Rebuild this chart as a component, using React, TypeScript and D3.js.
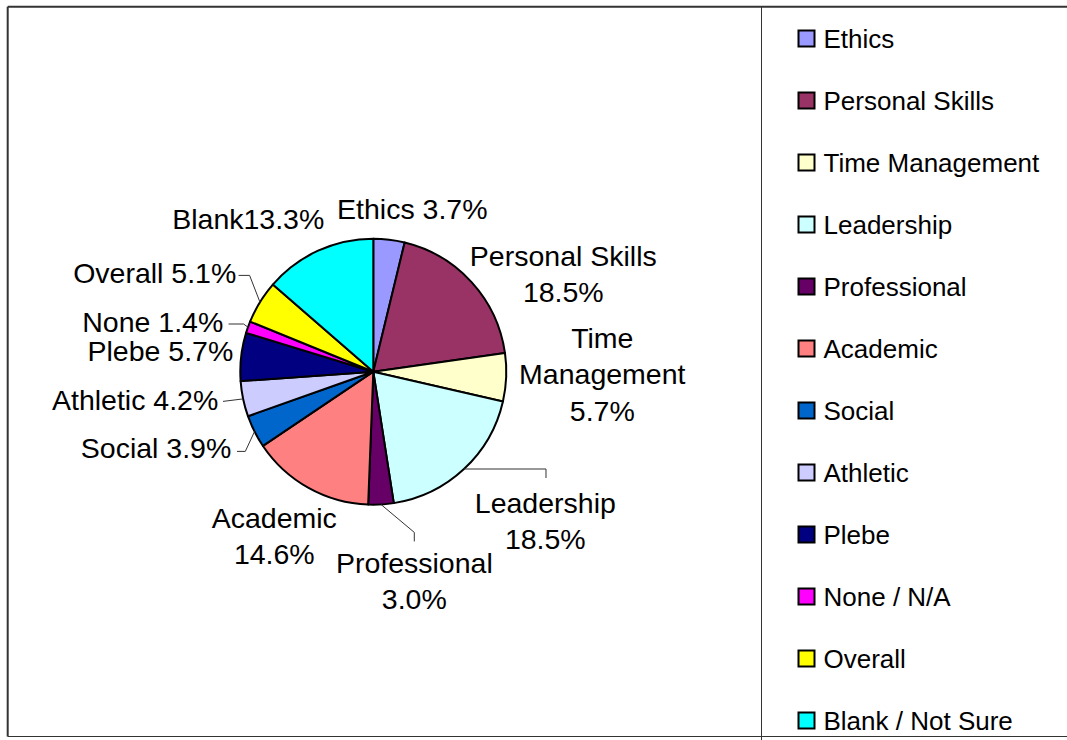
import React, { useEffect, useRef } from "react";
import * as d3 from "d3";

// categories (legend names), label names and percentages
const categories = [
  "Ethics",
  "Personal Skills",
  "Time Management",
  "Leadership",
  "Professional",
  "Academic",
  "Social",
  "Athletic",
  "Plebe",
  "None / N/A",
  "Overall",
  "Blank / Not Sure",
];
const shortNames = [
  "Ethics",
  "Personal Skills",
  "Time Management",
  "Leadership",
  "Professional",
  "Academic",
  "Social",
  "Athletic",
  "Plebe",
  "None",
  "Overall",
  "Blank",
];
const percents = [3.7, 18.5, 5.7, 18.5, 3.0, 14.6, 3.9, 4.2, 5.7, 1.4, 5.1, 13.3];
const colors = [
  "#9999FF",
  "#993366",
  "#FFFFCC",
  "#CCFFFF",
  "#660066",
  "#FF8080",
  "#0066CC",
  "#CCCCFF",
  "#000080",
  "#FF00FF",
  "#FFFF00",
  "#00FFFF",
];

// label placement (relative to pie centre), like hand-dragged Excel labels
type LabelPos = {
  x: number;
  y: number;
  anchor: "start" | "middle" | "end";
  split: "space" | "lines" | "none" | "pct";
  leader?: { tx: number; ty: number; ex?: number; ey?: number };
};
const labelLayout: LabelPos[] = [
  { x: 39, y: -153, anchor: "middle", split: "space" },
  { x: 190, y: -106, anchor: "middle", split: "pct" },
  { x: 229, y: -24, anchor: "middle", split: "lines" },
  { x: 172, y: 141, anchor: "middle", split: "lines", leader: { tx: 172.7, ty: 106.3, ex: 172.7, ey: 97.3 } },
  { x: 41, y: 201, anchor: "middle", split: "lines", leader: { tx: 41, ty: 169.7, ex: 41, ey: 160.7 } },
  { x: -99, y: 156, anchor: "middle", split: "lines" },
  { x: -142, y: 86.3, anchor: "end", split: "space", leader: { tx: -136.3, ty: 79.7, ex: -128, ey: 79.7 } },
  { x: -155, y: 38, anchor: "end", split: "space", leader: { tx: -150.3, ty: 29.7 } },
  { x: -140, y: -10.3, anchor: "end", split: "space" },
  { x: -150, y: -39.5, anchor: "end", split: "space", leader: { tx: -144.7, ty: -47.7, ex: -129.7, ey: -47.7 } },
  { x: -137, y: -88.7, anchor: "end", split: "space", leader: { tx: -134.7, ty: -96.3, ex: -123.7, ey: -96.3 } },
  { x: -49, y: -143, anchor: "end", split: "none" },
];

const W = 1067;
const H = 740;
const cx = 373.3;
const cy = 371.7;
const R = 133;
const FONT = "'Liberation Sans', Arial, Helvetica, sans-serif";

const App = () => {
  const svgRef = useRef<SVGSVGElement | null>(null);

  useEffect(() => {
    const svg = d3.select(svgRef.current);
    svg.selectAll("*").remove();

    // chart frame
    svg.append("rect").attr("width", W).attr("height", H).attr("fill", "#fff");
    svg.append("line").attr("x1", 7.7).attr("x2", W).attr("y1", 6.7).attr("y2", 6.7)
      .attr("stroke", "#333").attr("stroke-width", 2);
    svg.append("line").attr("x1", 7.7).attr("x2", 7.7).attr("y1", 6.7).attr("y2", 736.5)
      .attr("stroke", "#333").attr("stroke-width", 2);
    svg.append("line").attr("x1", 7.7).attr("x2", W).attr("y1", 736.5).attr("y2", 736.5)
      .attr("stroke", "#333").attr("stroke-width", 1);
    svg.append("line").attr("x1", 761.5).attr("x2", 761.5).attr("y1", 6.7).attr("y2", H)
      .attr("stroke", "#333").attr("stroke-width", 1);

    const pie = d3.pie<number>().sort(null).value((d) => d);
    const arcs = pie(percents);
    const arc = d3.arc<d3.PieArcDatum<number>>().innerRadius(0).outerRadius(R);
    const edge = d3.arc<d3.PieArcDatum<number>>().innerRadius(R).outerRadius(R);

    const g = svg.append("g").attr("transform", `translate(${cx},${cy})`);

    g.selectAll("path.slice")
      .data(arcs)
      .enter()
      .append("path")
      .attr("class", "slice")
      .attr("d", arc)
      .attr("fill", (_, i) => colors[i])
      .attr("stroke", "#000")
      .attr("stroke-width", 2)
      .attr("stroke-linejoin", "round");

    // leader lines
    arcs.forEach((a, i) => {
      const lay = labelLayout[i];
      if (!lay.leader) return;
      const [px, py] = edge.centroid(a);
      const pts: [number, number][] = [[px, py]];
      if (lay.leader.ex !== undefined && lay.leader.ey !== undefined) pts.push([lay.leader.ex, lay.leader.ey]);
      pts.push([lay.leader.tx, lay.leader.ty]);
      g.append("path")
        .attr("d", d3.line()(pts))
        .attr("fill", "none")
        .attr("stroke", "#333")
        .attr("stroke-width", 1);
    });

    // slice labels
    arcs.forEach((a, i) => {
      const lay = labelLayout[i];
      const pct = percents[i].toFixed(1) + "%";
      let lines: string[];
      if (lay.split === "lines") lines = [...shortNames[i].split(" "), pct];
      else if (lay.split === "pct") lines = [shortNames[i], pct];
      else if (lay.split === "none") lines = [shortNames[i] + pct];
      else lines = [shortNames[i] + " " + pct];
      const t = g.append("text")
        .attr("x", lay.x)
        .attr("y", lay.y)
        .attr("text-anchor", lay.anchor)
        .style("font-family", FONT)
        .style("font-size", "28.5px")
        .attr("fill", "#000");
      lines.forEach((ln, k) => {
        t.append("tspan").attr("x", lay.x).attr("dy", k === 0 ? 0 : 36.5).text(ln);
      });
    });

    // legend
    const legendY = d3.scalePoint<number>().domain(d3.range(categories.length)).range([48, 730]);
    const lg = svg.append("g");
    categories.forEach((c, i) => {
      const y = legendY(i) as number;
      lg.append("rect")
        .attr("x", 798.5)
        .attr("y", y - 17.5)
        .attr("width", 16)
        .attr("height", 16)
        .attr("fill", colors[i])
        .attr("stroke", "#000")
        .attr("stroke-width", 2);
      lg.append("text")
        .attr("x", 823.5)
        .attr("y", y)
        .style("font-family", FONT)
        .style("font-size", "26px")
        .attr("fill", "#000")
        .text(c);
    });
  }, []);

  return (
    <svg
      ref={svgRef}
      width={W}
      height={H}
      style={{ position: "absolute", left: 0, top: 0, display: "block" }}
    ></svg>
  );
};

export default App;
